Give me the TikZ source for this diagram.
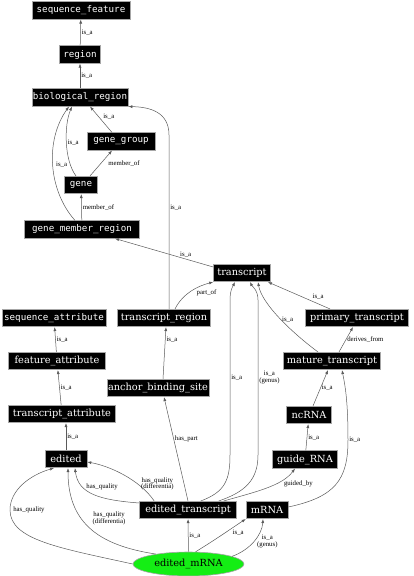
\documentclass[tikz,border=0pt]{standalone}
\usepackage{fontspec}
\usepackage{tikz}
\usetikzlibrary{arrows.meta,shapes.geometric}
\newfontfamily\termserif{DejaVu Serif}
\newfontfamily\termmono{DejaVu Sans Mono}
\newfontfamily\relserif{Liberation Serif}
\definecolor{rootgreen}{RGB}{20,238,20}
\definecolor{relgray}{RGB}{90,90,90}

\begin{document}
\begin{tikzpicture}[x=1pt, y=-1pt,
  term/.style={rectangle, fill=black, draw=gray!70, line width=0.6pt, text=white,
               inner sep=1pt, minimum height=17.5pt, font=\termserif\fontsize{9.8}{10}\selectfont},
  monoterm/.style={term, font=\termmono\fontsize{9.2}{10}\selectfont},
  rootterm/.style={ellipse, fill=rootgreen, draw=gray!70, line width=0.6pt, inner sep=1pt,
               minimum width=111pt, minimum height=24pt, font=\termserif\fontsize{9.8}{10}\selectfont},
  rel/.style={draw=relgray, line width=0.5pt, -{Latex[length=4pt,width=3pt]}},
  lbl/.style={font=\relserif\fontsize{6.8}{6.6}\selectfont, inner sep=1pt, align=center, text=black}]
\useasboundingbox (0,0) rectangle (413,576);

% upper part: regions and genes
\node[monoterm, minimum width=98pt] (sequence_feature) at (81,10.5) {sequence\_feature};
\node[monoterm, minimum width=41pt] (region) at (80,54.5) {region};
\node[monoterm, minimum width=96pt] (biological_region) at (80,97.5) {biological\_region};
\node[monoterm, minimum width=68pt] (gene_group) at (121,141.5) {gene\_group};
\node[monoterm, minimum width=33pt] (gene) at (81,185) {gene};
\node[monoterm, minimum width=115pt] (gene_member_region) at (82,229.5) {gene\_member\_region};
\node[term, minimum width=57pt] (transcript) at (242,273) {transcript};

% middle part
\node[monoterm, minimum width=104pt] (sequence_attribute) at (54,318) {sequence\_attribute};
\node[term, minimum width=93pt] (transcript_region) at (164,318) {transcript\_region};
\node[term, minimum width=103pt] (primary_transcript) at (357,318) {primary\_transcript};
\node[term, minimum width=97pt] (feature_attribute) at (57,361) {feature\_attribute};
\node[term, minimum width=97pt] (mature_transcript) at (332,361) {mature\_transcript};
\node[term, minimum width=102pt] (anchor_binding_site) at (158,388) {anchor\_binding\_site};
\node[term, minimum width=107pt] (transcript_attribute) at (62,414) {transcript\_attribute};
\node[term, minimum width=45pt] (ncRNA) at (309,415) {ncRNA};

% lower part
\node[term, minimum width=42pt] (edited) at (66,459) {edited};
\node[term, minimum width=65pt] (guide_RNA) at (305,459.5) {guide\_RNA};
\node[term, minimum width=97pt] (edited_transcript) at (188,510) {edited\_transcript};
\node[term, minimum width=42pt] (mRNA) at (267,510) {mRNA};
\node[rootterm] (edited_mRNA) at (188.5,564) {edited\_mRNA};

% is_a chain at the top
\draw[rel] (region) -- node[lbl, right] {is\_a} (sequence_feature);
\draw[rel] (biological_region) -- node[lbl, right] {is\_a} (region);
\draw[rel] ([xshift=-9pt]gene_group.north) -- node[lbl, pos=0.45, above right] {is\_a} ([xshift=10pt]biological_region.south);
\draw[rel] ([xshift=-5pt]gene.north) .. controls (64,160) and (64,125) .. node[lbl, right] {is\_a} ([xshift=-8pt]biological_region.south);
\draw[rel] ([xshift=9pt]gene.north) -- node[lbl, right=6pt] {member\_of} ([xshift=-9pt]gene_group.south);
\draw[rel] (gene_member_region) -- node[lbl, right] {member\_of} (gene);
\draw[rel] ([xshift=-7pt]gene_member_region.north) .. controls (48,190) and (45,140) .. node[lbl, right=2pt] {is\_a} ([xshift=-11pt]biological_region.south);
\draw[rel] ([xshift=5pt]transcript_region.north) -- node[lbl, pos=0.58, right] {is\_a} (169,135)
  .. controls (169,112) and (150,107) .. (biological_region.south east);
\draw[rel] ([yshift=6pt]transcript.west) -- node[lbl, pos=0.28, above] {is\_a} ([xshift=33pt]gene_member_region.south);

% transcript hierarchy
\draw[rel] ([xshift=11pt]transcript_region.north) .. controls (183,293) and (198,286) .. node[lbl, pos=0.6, below right] {part\_of} (transcript.south west);
\draw[rel] ([xshift=-27pt]primary_transcript.north) -- node[lbl, pos=0.3, above right] {is\_a} ([xshift=26pt]transcript.south);
\draw[rel] ([xshift=-14pt]mature_transcript.north) .. controls (295,335) and (262,305) .. node[lbl, right] {is\_a} ([xshift=16pt]transcript.south);
\draw[rel] ([xshift=7pt]mature_transcript.north) -- node[lbl, right] {derives\_from} ([xshift=-4pt]primary_transcript.south);
\draw[rel] (feature_attribute) -- node[lbl, right] {is\_a} (sequence_attribute);
\draw[rel] (transcript_attribute) -- node[lbl, right] {is\_a} (feature_attribute);
\draw[rel] (edited.north) -- node[lbl, right] {is\_a} (edited.north |- transcript_attribute.south);
\draw[rel] ([xshift=5pt]anchor_binding_site.north) -- node[lbl, pos=0.75, right] {is\_a} ([xshift=2pt]transcript_region.south);
\draw[rel] ([xshift=4pt]ncRNA.north) -- node[lbl, right] {is\_a} ([xshift=-4pt]mature_transcript.south);
\draw[rel] (guide_RNA) -- node[lbl, right] {is\_a} (ncRNA);
\draw[rel] ([yshift=3pt]mRNA.east) .. controls (335,497) and (348,480) .. (348,440) node[lbl, right] {is\_a}
  .. controls (348,400) and (345,385) .. ([xshift=10pt]mature_transcript.south);

% edited_transcript
\draw[rel] (edited_transcript.north) -- node[lbl, pos=0.6, right] {has\_part} ([xshift=6pt]anchor_binding_site.south);
\draw[rel] ([xshift=-36pt]edited_transcript.north east) .. controls (225,492) and (230,480) .. (230,455) --
  node[lbl, right] {is\_a} (230,300) .. controls (230,290) and (233,286) .. ([xshift=-7pt]transcript.south);
\draw[rel] ([xshift=-18pt]edited_transcript.north east) .. controls (245,492) and (258,480) .. (258,455) --
  node[lbl, right] {is\_a\\(genus)} (258,300) .. controls (258,290) and (252,286) .. ([xshift=8pt]transcript.south);
\draw[rel] ([xshift=-13pt]edited_transcript.north east) .. controls (255,492) and (282,486) .. node[lbl, pos=0.75, below right] {guided\_by} ([xshift=-10pt]guide_RNA.south);
\draw[rel] ([yshift=7pt]edited_transcript.west) .. controls (100,500) and (78,494) .. node[lbl, pos=0.38, above=6pt] {has\_quality} ([xshift=9pt]edited.south);
\draw[rel] ([xshift=15pt]edited_transcript.north west) .. controls (140,480) and (110,466) .. node[lbl, pos=0.3, right=2pt] {has\_quality\\(differentia)} ([yshift=-3pt]edited.east);

% edited_mRNA
\draw[rel] (edited_mRNA) -- node[lbl, right] {is\_a} (edited_transcript);
\draw[rel] (edited_mRNA.60) .. controls (215,540) and (235,526) .. node[lbl, pos=0.65, below right] {is\_a} (mRNA.south west);
\draw[rel] (edited_mRNA.10) .. controls (250,550) and (262,535) .. node[lbl, pos=0.5, right=2pt] {is\_a\\(genus)} ([xshift=-4pt]mRNA.south);
\draw[rel] (edited_mRNA.west) .. controls (60,548) and (10,540) .. (10,510) node[lbl, right=2pt] {has\_quality}
  .. controls (10,490) and (30,475) .. ([xshift=-12pt]edited.south);
\draw[rel] (edited_mRNA.163) .. controls (95,545) and (68,520) .. node[lbl, pos=0.6, right=10pt] {has\_quality\\(differentia)} ([xshift=2pt]edited.south);
\end{tikzpicture}
\end{document}
